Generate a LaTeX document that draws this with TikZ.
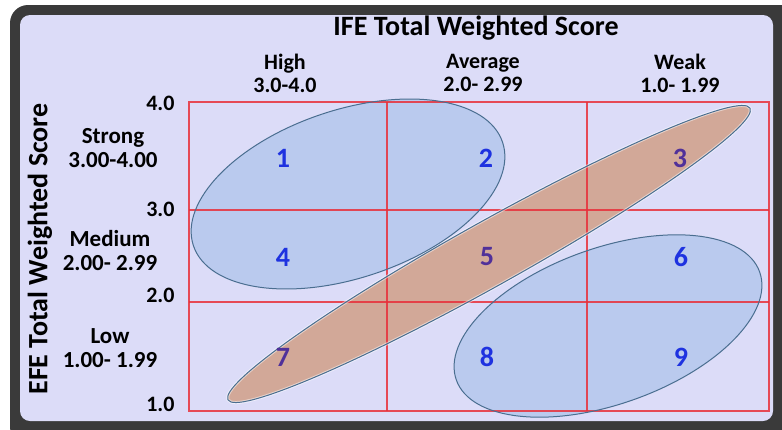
\documentclass[tikz,border=0pt]{standalone}
\usepackage{fontspec}
\setmainfont{Carlito}
\definecolor{framegray}{HTML}{3A3A3A}
\definecolor{lavender}{HTML}{DCDCF8}
\definecolor{gridred}{HTML}{E8303A}
\definecolor{ovalblue}{HTML}{BACAEE}
\definecolor{ovaltan}{HTML}{D2A898}
\definecolor{ovalline}{HTML}{4A6E90}
\definecolor{numblue}{HTML}{1E32E0}
\definecolor{numpurple}{HTML}{50309A}
\begin{document}
\begin{tikzpicture}[x=1pt,y=-1pt,
  hdr/.style={font=\bfseries\fontsize{22}{23}\selectfont, align=center},
  rowhdr/.style={font=\bfseries\fontsize{23}{24}\selectfont, align=center},
  tick/.style={font=\bfseries\fontsize{22}{22}\selectfont, anchor=east},
  axtitle/.style={font=\bfseries\fontsize{28}{30}\selectfont},
  cellnum/.style={font=\bfseries\fontsize{28}{30}\selectfont, text=numblue},
  gridline/.style={gridred, line width=1.4pt, opacity=0.85},
  ovaledge/.style={draw=white, line width=3pt, opacity=0.5},
  oval/.style={draw=ovalline, line width=1pt}]
\useasboundingbox (0,0) rectangle (782,429);
\clip (0,0) rectangle (782,429);
% frame and background
\fill[framegray, rounded corners=18pt] (10,5) rectangle (800,445);
\fill[lavender, rounded corners=10pt] (20,15) rectangle (773,421);
% oval fills
\fill[ovalblue, rotate around={18.5:(348,194)}] (348,194) ellipse [x radius=163, y radius=84];
\fill[ovaltan, rotate around={29.2:(489,254)}] (489,254) ellipse [x radius=299, y radius=32];
\fill[ovalblue, rotate around={19.6:(608,326)}] (608,326) ellipse [x radius=161, y radius=78];
% grid
\draw[gridline] (189,102) rectangle (769,411);
\foreach \gx in {387,587}
  \draw[gridline] (\gx,102) -- (\gx,411);
\foreach \gy in {210,302}
  \draw[gridline] (189,\gy) -- (769,\gy);
% oval outlines
\draw[ovaledge, rotate around={29.2:(489,254)}] (489,254) ellipse [x radius=299, y radius=32];
\draw[oval, rotate around={18.5:(348,194)}] (348,194) ellipse [x radius=163, y radius=84];
\draw[oval, rotate around={29.2:(489,254)}] (489,254) ellipse [x radius=299, y radius=32];
\draw[oval, rotate around={19.6:(608,326)}] (608,326) ellipse [x radius=161, y radius=78];
% titles
\node[axtitle] (ife) at (476,28) {IFE Total Weighted Score};
\node[axtitle, rotate=90] (efe) at (40,249) {EFE Total Weighted Score};
% column headers
\node[hdr] (high) at (285,73) {High\\3.0-4.0};
\node[hdr] (average) at (483,73) {Average\\2.0- 2.99};
\node[hdr] (weak) at (680,73) {Weak\\1.0- 1.99};
% row headers
\node[rowhdr] (strong) at (113,148) {Strong\\3.00-4.00};
\node[rowhdr] (medium) at (110,251) {Medium\\2.00- 2.99};
\node[rowhdr] (low) at (110,348) {Low\\1.00- 1.99};
% ticks
\node[tick] (t4) at (178,103) {4.0};
\node[tick] (t3) at (178,209) {3.0};
\node[tick] (t2) at (178,295) {2.0};
\node[tick] (t1) at (178,404) {1.0};
% cell numbers
\node[cellnum] (c1) at (283,158) {1};
\node[cellnum] (c2) at (486,158) {2};
\node[cellnum, text=numpurple] (c3) at (680,158) {3};
\node[cellnum] (c4) at (283,257) {4};
\node[cellnum, text=numpurple] (c5) at (487,257) {5};
\node[cellnum] (c6) at (681,257) {6};
\node[cellnum, text=numpurple] (c7) at (283,357) {7};
\node[cellnum] (c8) at (487,357) {8};
\node[cellnum] (c9) at (681,357) {9};
\end{tikzpicture}
\end{document}
